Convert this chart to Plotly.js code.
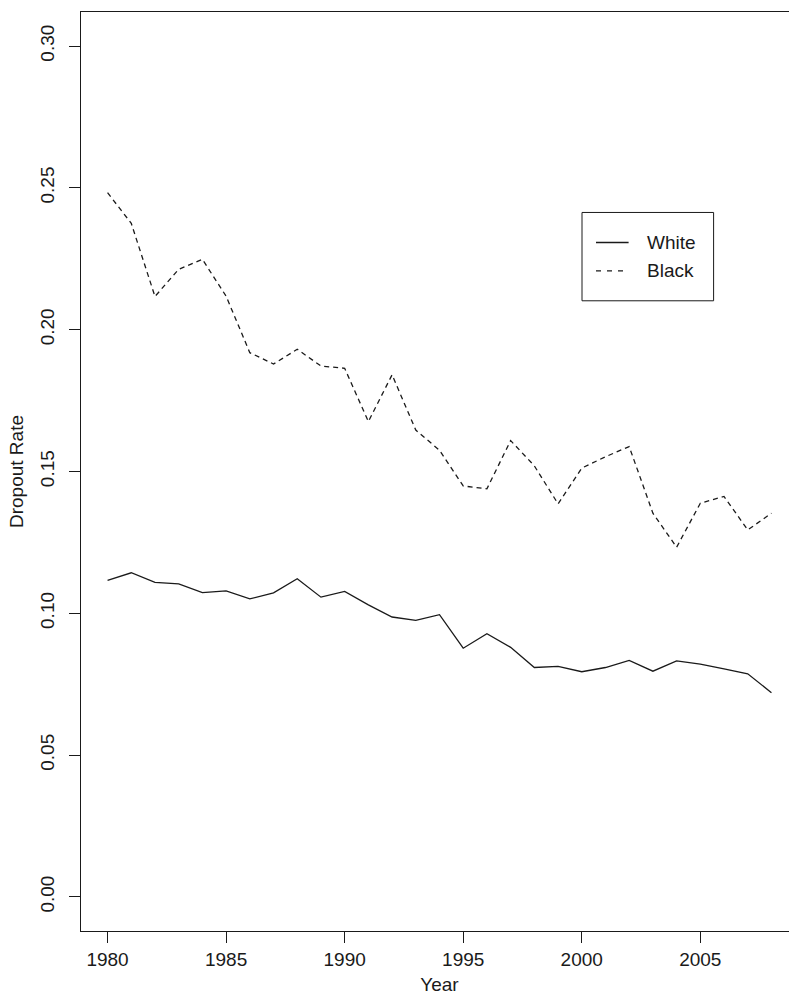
<!DOCTYPE html>
<html>
<head>
<meta charset="utf-8">
<script src="https://cdn.plot.ly/plotly-3.0.1.min.js"></script>
<style>
html,body{margin:0;padding:0;overflow:hidden;background:#fff;}
#chart{width:798px;height:997px;}
</style>
</head>
<body>
<div id="chart"></div>
<script>
const years = [1980,1981,1982,1983,1984,1985,1986,1987,1988,1989,1990,1991,1992,1993,1994,1995,1996,1997,1998,1999,2000,2001,2002,2003,2004,2005,2006,2007,2008];
const white = [0.1116,0.1143,0.1109,0.1104,0.1073,0.1079,0.1051,0.1072,0.1122,0.1057,0.1077,0.1030,0.0987,0.0975,0.0995,0.0877,0.0928,0.0880,0.0809,0.0813,0.0794,0.0809,0.0834,0.0796,0.0832,0.0821,0.0804,0.0787,0.0720];
const black = [0.2483,0.2375,0.2117,0.2213,0.2248,0.2118,0.1919,0.1879,0.1931,0.1872,0.1864,0.1676,0.1841,0.1646,0.1575,0.1449,0.1439,0.1609,0.1520,0.1386,0.1512,0.1552,0.1588,0.1353,0.1233,0.1388,0.1412,0.1294,0.1353];
const xTicks = [1980,1985,1990,1995,2000,2005];
const yTicks = [0,0.05,0.10,0.15,0.20,0.25,0.30];
const yTickText = ["0.00","0.05","0.10","0.15","0.20","0.25","0.30"];
const seriesNames = ["White","Black"];

const W = 798, H = 997;
const M = {l:80.7, r:0.3, t:12.3, b:66};
const pw = W - M.l - M.r, ph = H - M.t - M.b;
const px2x = p => (p - M.l) / pw;
const py2y = p => (H - M.b - p) / ph;

const FONT = "Liberation Sans, Arial, sans-serif";
const TXT = "#1a1a1a";
const FS = 19;

const traces = [
  {x: years, y: white, name: seriesNames[0], type: "scatter", mode: "lines",
   line: {color: "#1a1a1a", width: 1.3}},
  {x: years, y: black, name: seriesNames[1], type: "scatter", mode: "lines",
   line: {color: "#1a1a1a", width: 1.3, dash: "5px,4px"}}
];

const legendBox = {x0: 581.7, x1: 713.3, y0: 212.7, y1: 301};
const legSample = {x0: 595.7, x1: 628.3};
const legRows = [242.7, 271];
const legTextX = 645;

const shapes = [
  {type: "rect", xref: "paper", yref: "paper",
   x0: px2x(legendBox.x0), x1: px2x(legendBox.x1), y0: py2y(legendBox.y1), y1: py2y(legendBox.y0),
   line: {color: "#1a1a1a", width: 1}, fillcolor: "rgba(0,0,0,0)"},
  {type: "line", xref: "paper", yref: "paper",
   x0: px2x(legSample.x0), x1: px2x(legSample.x1), y0: py2y(legRows[0]), y1: py2y(legRows[0]),
   line: {color: "#1a1a1a", width: 1.3}},
  {type: "line", xref: "paper", yref: "paper",
   x0: px2x(legSample.x0), x1: px2x(legSample.x1), y0: py2y(legRows[1]), y1: py2y(legRows[1]),
   line: {color: "#1a1a1a", width: 1.3, dash: "5px,6px"}}
];
const annotations = seriesNames.map((n, i) => ({
  text: n, xref: "paper", yref: "paper", x: px2x(legTextX), y: py2y(legRows[i]),
  xanchor: "left", yanchor: "middle", showarrow: false,
  font: {family: FONT, size: FS, color: TXT}
}));

const layout = {
  width: W, height: H,
  margin: M,
  paper_bgcolor: "#fff", plot_bgcolor: "#fff",
  showlegend: false,
  font: {family: FONT, size: FS, color: TXT},
  xaxis: {
    range: [1978.88, 2009.12], tickvals: xTicks, ticktext: xTicks.map(String),
    ticks: "outside", ticklen: 11, tickwidth: 1, tickcolor: "#1a1a1a",
    showline: true, mirror: true, linecolor: "#1a1a1a", linewidth: 1,
    showgrid: false, zeroline: false,
    tickfont: {family: FONT, size: FS, color: TXT},
    title: {text: "Year", font: {family: FONT, size: FS, color: TXT}, standoff: 8}
  },
  yaxis: {
    range: [-0.012, 0.312], tickvals: yTicks, ticktext: yTickText,
    ticks: "outside", ticklen: 11, tickwidth: 1, tickcolor: "#1a1a1a", tickangle: -90,
    ticklabelstandoff: 7,
    showline: true, mirror: true, linecolor: "#1a1a1a", linewidth: 1,
    showgrid: false, zeroline: false,
    tickfont: {family: FONT, size: FS, color: TXT},
    title: {text: "Dropout Rate", font: {family: FONT, size: FS, color: TXT}, standoff: 8}
  },
  shapes: shapes,
  annotations: annotations
};

Plotly.newPlot("chart", traces, layout, {staticPlot: true, displayModeBar: false});
</script>
</body>
</html>
